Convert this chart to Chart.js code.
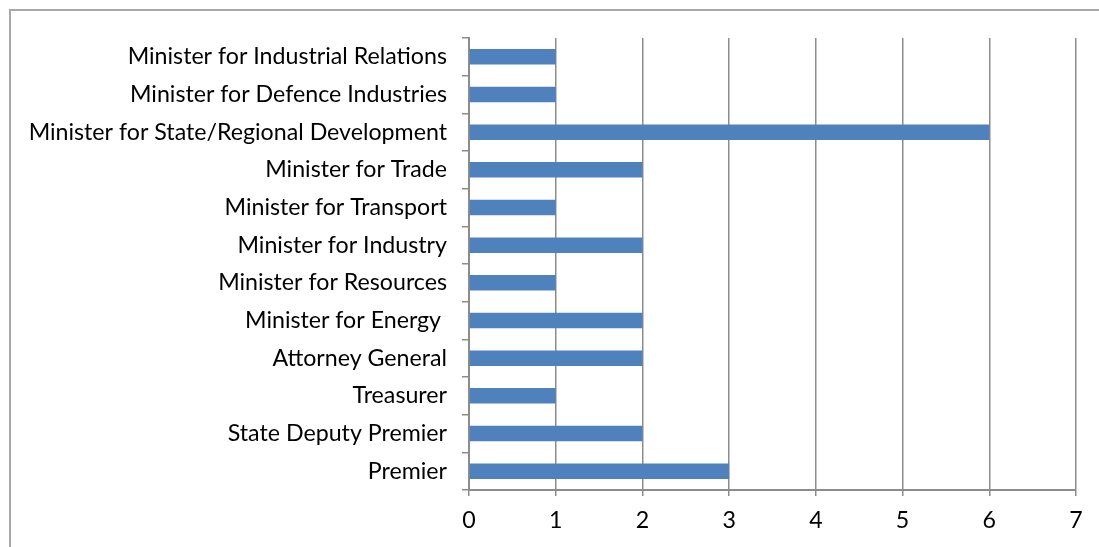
<!DOCTYPE html>
<html>
<head>
<meta charset="utf-8">
<script src="https://cdn.jsdelivr.net/npm/chart.js@4/dist/chart.umd.min.js"></script>
<style>
  html, body { margin: 0; padding: 0; background: #fff; overflow: hidden; }
  #frame {
    position: absolute; left: 9px; top: 9px; width: 1200px; height: 600px;
    border: 2px solid #a8a8a8; box-sizing: border-box;
  }
  #wrap { position: absolute; left: 0; top: 0; width: 1099px; height: 547px; }
</style>
</head>
<body>
<div id="frame"></div>
<div id="wrap"><canvas id="chart-roles"></canvas></div>
<script>
const roles = [
  "Minister for Industrial Relations",
  "Minister for Defence Industries",
  "Minister for State/Regional Development",
  "Minister for Trade",
  "Minister for Transport",
  "Minister for Industry",
  "Minister for Resources",
  "Minister for Energy ",
  "Attorney General",
  "Treasurer",
  "State Deputy Premier",
  "Premier",
];
const counts = [1, 1, 6, 2, 1, 2, 1, 2, 2, 1, 2, 3];
const xTicks = [0, 1, 2, 3, 4, 5, 6, 7];

const gridGrey = "#8c8c8c";
const labelFont = { family: "Lato, 'Open Sans', sans-serif", size: 23.2 };

document.addEventListener("DOMContentLoaded", () => {
  const ctx = document.getElementById("chart-roles").getContext("2d");
  new Chart(ctx, {
    type: "bar",
    data: {
      labels: roles,
      datasets: [
        {
          data: counts,
          backgroundColor: "#4f81bd",
          categoryPercentage: 1,
          barPercentage: 0.41,
        },
      ],
    },
    options: {
      indexAxis: "y",
      responsive: true,
      maintainAspectRatio: false,
      animation: false,
      layout: { padding: { top: 38, right: 23, bottom: 0, left: 0 } },
      plugins: { legend: { display: false }, tooltip: { enabled: false } },
      scales: {
        x: {
          min: xTicks[0],
          max: xTicks[xTicks.length - 1],
          afterBuildTicks: (scale) => {
            scale.ticks = xTicks.map((v) => ({ value: v }));
          },
          afterFit: (scale) => { scale.height = 57; },
          border: { color: gridGrey, width: 2 },
          grid: { color: gridGrey, lineWidth: 1.5, tickLength: 6 },
          ticks: { color: "#000", font: labelFont, padding: 11 },
        },
        y: {
          afterFit: (scale) => { scale.width = 469; },
          border: { color: gridGrey, width: 2 },
          grid: { drawOnChartArea: false, color: gridGrey, lineWidth: 1.5, tickLength: 7, offset: true },
          ticks: { color: "#000", font: labelFont, padding: 15, autoSkip: false },
        },
      },
    },
  });
});
</script>
</body>
</html>
